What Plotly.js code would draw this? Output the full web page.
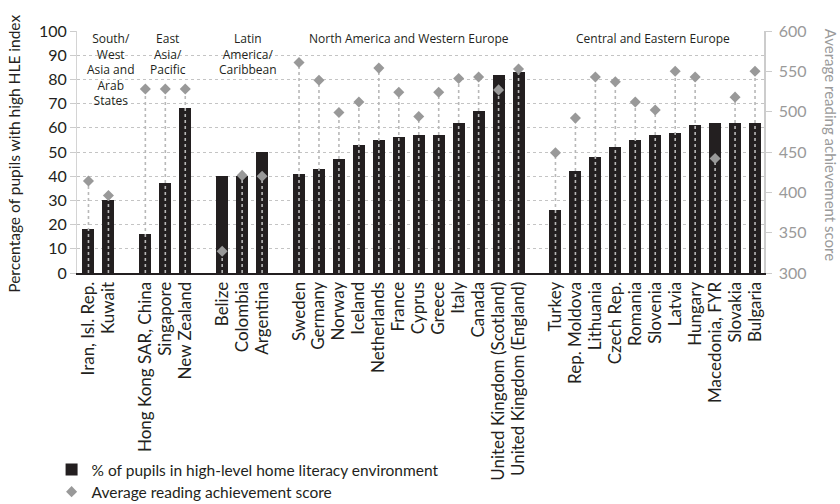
<!DOCTYPE html>
<html>
<head>
<meta charset="utf-8">
<script src="https://cdn.plot.ly/plotly-3.0.1.min.js"></script>
<style>html,body{margin:0;padding:0;background:#fff;}#chart{width:840px;height:504px;}</style>
</head>
<body>
<div id="chart"></div>
<script>
// ---- data ----
const groups = [
  "South/<br>West<br>Asia and<br>Arab<br>States",
  "East<br>Asia/<br>Pacific",
  "Latin<br>America/<br>Caribbean",
  "North America and Western Europe",
  "Central and Eastern Europe"
];
const countries = [
  "Iran, Isl. Rep.", "Kuwait",
  "Hong Kong SAR, China", "Singapore", "New Zealand",
  "Belize", "Colombia", "Argentina",
  "Sweden", "Germany", "Norway", "Iceland", "Netherlands", "France", "Cyprus", "Greece", "Italy", "Canada", "United Kingdom (Scotland)", "United Kingdom (England)",
  "Turkey", "Rep. Moldova", "Lithuania", "Czech Rep.", "Romania", "Slovenia", "Latvia", "Hungary", "Macedonia, FYR", "Slovakia", "Bulgaria"
];
const countryGroup = [
  0, 0,
  1, 1, 1,
  2, 2, 2,
  3, 3, 3, 3, 3, 3, 3, 3, 3, 3, 3, 3,
  4, 4, 4, 4, 4, 4, 4, 4, 4, 4, 4
];
const highHLE = [
  18, 30,
  16, 37, 68,
  40, 40, 50,
  41, 43, 47, 53, 55, 56, 57, 57, 62, 67, 82, 83,
  26, 42, 48, 52, 55, 57, 58, 61, 62, 62, 62
];
const readingScore = [
  414, 396,
  528, 528, 528,
  327, 421, 420,
  561, 539, 499, 512, 554, 524, 494, 524, 541, 543, 527, 553,
  449, 492, 543, 537, 512, 502, 550, 543, 442, 518, 550
];
const legendBars = "% of pupils in high-level home literacy environment";
const legendScore = "Average reading achievement score";
const leftTitle = "Percentage of pupils with high HLE index";
const rightTitle = "Average reading achievement score";

// ---- layout helpers ----
const GAP = 0.85;
const xpos = countries.map((c, i) => i + GAP * countryGroup[i]);

// stems: from axis floor to each diamond
const stemX = [], stemY = [];
xpos.forEach((x, i) => { stemX.push(x, x, null); stemY.push(300, readingScore[i], null); });

// group label positions (centre of each group, small nudges)
const groupNudge = [0.63, 0.13, 0.29, 0, -0.1];
const groupLabelAnn = groups.map((g, gi) => {
  const xs = xpos.filter((x, i) => countryGroup[i] === gi);
  const c = (xs[0] + xs[xs.length - 1]) / 2 + groupNudge[gi];
  return {
    x: c, xref: 'x', y: 1.013, yref: 'paper', yanchor: 'top', xanchor: 'center',
    text: g, showarrow: false, align: 'center',
    font: {family: 'Open Sans, sans-serif', size: 12, color: '#231f20'}
  };
});

const font = 'Lato, sans-serif';

const traces = [
  {
    type: 'bar', x: xpos, y: highHLE, name: legendBars, width: 0.6,
    marker: {color: '#231f20'}, yaxis: 'y', hoverinfo: 'skip', legend: 'legend'
  },
  {
    type: 'scatter', mode: 'lines', x: stemX, y: stemY, yaxis: 'y2',
    line: {color: '#b8b8b8', width: 1.6, dash: 'dot'}, showlegend: false, hoverinfo: 'skip'
  },
  {
    type: 'scatter', mode: 'markers', x: xpos, y: readingScore, name: legendScore, yaxis: 'y2',
    marker: {symbol: 'diamond', size: 8.5, color: '#999999'}, legend: 'legend2'
  }
];

const legendCommon = {
  xanchor: 'left', yanchor: 'top', orientation: 'v',
  font: {family: font, size: 15.5, color: '#231f20'}, bgcolor: 'rgba(0,0,0,0)',
  itemwidth: 30
};

const layout = {
  width: 840, height: 504,
  margin: {l: 77, r: 76, t: 31, b: 231, autoexpand: false},
  paper_bgcolor: '#ffffff', plot_bgcolor: '#ffffff',
  font: {family: font, color: '#231f20'},
  showlegend: true,
  legend: Object.assign({x: -0.037, y: -0.744}, legendCommon),
  legend2: Object.assign({x: -0.037, y: -0.835}, legendCommon),
  bargap: 0,
  xaxis: {
    range: [-0.575, 33.85], tickvals: xpos, ticktext: countries, tickangle: -90,
    tickfont: {family: font, size: 17, color: '#231f20'}, automargin: false,
    showgrid: false, zeroline: false, showline: true, linecolor: '#231f20', linewidth: 2,
    ticks: '', fixedrange: true
  },
  yaxis: {
    range: [0, 100], dtick: 10, tick0: 0, automargin: false,
    tickfont: {family: font, size: 16, color: '#231f20'},
    showgrid: true, gridcolor: '#c4c4c4', griddash: 'dot', gridwidth: 1,
    zeroline: false, showline: true, linecolor: '#d4d4d4', linewidth: 1,
    ticks: 'outside', ticklen: 6, tickcolor: '#cccccc'
  },
  yaxis2: {
    overlaying: 'y', side: 'right', range: [300, 600], dtick: 50, tick0: 300, automargin: false,
    tickfont: {family: font, size: 16, color: '#9a9a9a'},
    showgrid: false, zeroline: false, showline: true, linecolor: '#cccccc', linewidth: 1.5,
    ticks: 'outside', ticklen: 6, tickcolor: '#cccccc', ticklabelstandoff: 4
  },
  annotations: [
    {
      text: leftTitle, textangle: -90, showarrow: false,
      xref: 'paper', yref: 'paper', x: -0.092, y: 0.492, xanchor: 'center', yanchor: 'middle',
      font: {family: font, size: 15.5, color: '#231f20'}
    },
    {
      text: rightTitle, textangle: 90, showarrow: false,
      xref: 'paper', yref: 'paper', x: 1.0975, y: 0.53, xanchor: 'center', yanchor: 'middle',
      font: {family: font, size: 15, color: '#9a9a9a'}
    }
  ].concat(groupLabelAnn)
};

Plotly.newPlot('chart', traces, layout, {displayModeBar: false, staticPlot: true});
</script>
</body>
</html>
